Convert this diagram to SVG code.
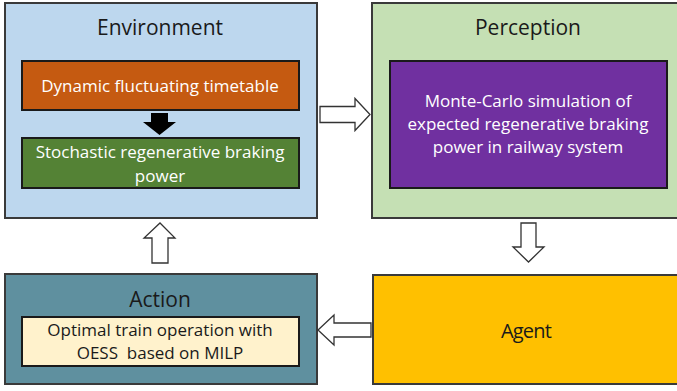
<svg xmlns="http://www.w3.org/2000/svg" width="677" height="391" viewBox="0 0 677 391">
<style>
.box{stroke:#3a3a3a;stroke-width:2}
.inner{stroke:#1a1a1a;stroke-width:2}
.title{font-family:"Open Sans","Liberation Sans",sans-serif;font-size:21px;fill:#1a1a1a;text-anchor:middle}
.wt{font-family:"Open Sans","Liberation Sans",sans-serif;font-size:17px;fill:#ffffff;text-anchor:middle}
.bt{font-family:"Open Sans","Liberation Sans",sans-serif;font-size:17px;fill:#1a1a1a;text-anchor:middle}
.harrow{fill:#ffffff;stroke:#333333;stroke-width:1.3;stroke-linejoin:miter}
</style>
<rect width="677" height="391" fill="#ffffff"/>
<g id="environment">
<rect class="box" x="5" y="3" width="312" height="215" fill="#BDD7EE"/>
<text class="title" x="160" y="35">Environment</text>
<rect class="inner" x="22" y="61" width="277" height="49" fill="#C55A11"/>
<text class="wt" x="160" y="92">Dynamic fluctuating timetable</text>
<polygon points="151,113 168,113 168,122 176,122 159.5,135 143,122 151,122" fill="#000000"/>
<rect class="inner" x="22" y="138" width="277" height="50" fill="#548235"/>
<text class="wt" x="160" y="158">Stochastic regenerative braking</text>
<text class="wt" x="160" y="182">power</text>
</g>
<g id="perception">
<rect class="box" x="372" y="3" width="310" height="215" fill="#C5E0B4"/>
<text class="title" x="528" y="35">Perception</text>
<rect class="inner" x="390" y="61" width="277" height="127" fill="#7030A0"/>
<text class="wt" x="528" y="107">Monte-Carlo simulation of</text>
<text class="wt" x="528" y="130">expected regenerative braking</text>
<text class="wt" x="528" y="153">power in railway system</text>
</g>
<g id="agent">
<rect class="box" x="373" y="275" width="310" height="109" fill="#FFC000"/>
<text class="title" x="526" y="338" style="font-size:20px;letter-spacing:-0.8px">Agent</text>
</g>
<g id="action">
<rect class="box" x="5" y="274" width="312" height="110" fill="#5F909F"/>
<text class="title" x="160" y="307">Action</text>
<rect class="inner" x="22" y="317" width="277" height="49" fill="#FFF2CC"/>
<text class="bt" x="160" y="336">Optimal train operation with</text>
<text class="bt" x="160" y="359" xml:space="preserve">OESS  based on MILP</text>
</g>
<g id="connectors">
<polygon class="harrow" points="320,106.5 355,106.5 355,98.5 370,114.5 355,130.5 355,122.5 320,122.5"/>
<polygon class="harrow" points="521,223 536,223 536,247 544,247 528.5,262 513,247 521,247"/>
<polygon class="harrow" points="371,323 334,323 334,315 318,330 334,345 334,337 371,337"/>
<polygon class="harrow" points="152,263 168,263 168,238 175,238 160,223 144,238 152,238"/>
</g>
</svg>
